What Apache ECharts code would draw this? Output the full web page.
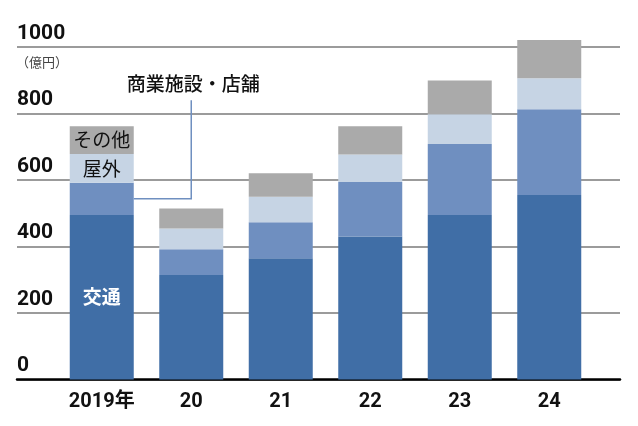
<!DOCTYPE html>
<html><head><meta charset="utf-8">
<script src="https://cdn.jsdelivr.net/npm/echarts@6/dist/echarts.min.js"></script>
<style>html,body{margin:0;padding:0;background:#fff}#c{width:638px;height:426px}</style>
</head><body><div id="c"></div>
<script>
const categories = ['2019年', '20', '21', '22', '23', '24'];
const transport = [495, 314, 365, 430, 495, 555];
const commercial = [97, 78, 108, 164, 213, 258];
const outdoor = [86, 62, 77, 83, 90, 93];
const other = [84, 60, 70, 85, 101, 115];
const seriesNames = ['交通', '商業施設・店舗', '屋外', 'その他'];
const unitLabel = '（億円）';
const yMin = 0, yMax = 1000, yStep = 200;

const NUM_FONT = "Roboto,'Noto Sans CJK JP',sans-serif";
const JP_FONT = "'Noto Sans CJK JP','Noto Sans',sans-serif";
const colors = ['#406ea6', '#6f8fc0', '#c6d4e4', '#aaaaaa'];

const gridTop = 47, gridBottom = 46.5;
const chart = echarts.init(document.getElementById('c'), null, {renderer: 'canvas'});

function firstLabel(arr, text, color, weight) {
  return arr.map((v, i) => i === 0 ? {
    value: v,
    label: {show: true, position: 'inside', formatter: text, color: color,
            fontFamily: JP_FONT, fontSize: 19, fontWeight: weight}
  } : v);
}

const seriesData = [
  firstLabel(transport, seriesNames[0], '#ffffff', 'bold'),
  commercial,
  firstLabel(outdoor, seriesNames[2], '#111111', 'normal'),
  firstLabel(other, seriesNames[3], '#111111', 'normal')
];

const option = {
  animation: false,
  grid: [
    {left: 17, right: 18, top: gridTop, bottom: gridBottom},
    {left: 57, right: 44, top: gridTop, bottom: gridBottom}
  ],
  xAxis: [
    {gridIndex: 0, type: 'value', min: 0, max: 1, show: true,
     axisLine: {show: true, onZero: false, lineStyle: {color: '#000', width: 2.5}},
     axisTick: {show: false}, axisLabel: {show: false}, splitLine: {show: false}},
    {gridIndex: 1, type: 'category', data: categories,
     axisLine: {show: false}, axisTick: {show: false},
     axisLabel: {interval: 0, color: '#111', fontFamily: NUM_FONT, fontSize: 20, fontWeight: 'bold', margin: 12}}
  ],
  yAxis: [
    {gridIndex: 0, type: 'value', min: yMin, max: yMax, interval: yStep,
     axisLine: {show: false}, axisTick: {show: false},
     axisLabel: {inside: true, align: 'left', verticalAlign: 'bottom', margin: 0, padding: [0, 0, 3, 0],
                 formatter: v => String(v),
                 color: '#111', fontFamily: NUM_FONT, fontSize: 21, fontWeight: 'bold'},
     splitLine: {show: true, lineStyle: {color: '#7a7a7a', width: 1.5}}},
    {gridIndex: 1, type: 'value', min: yMin, max: yMax, interval: yStep, show: false,
     splitLine: {show: false}}
  ],
  series: seriesData.map((d, i) => ({
    name: seriesNames[i], type: 'bar', stack: 'total',
    xAxisIndex: 1, yAxisIndex: 1, barWidth: 64, clip: false,
    itemStyle: {color: colors[i]}, data: d, z: 3
  }))
};
chart.setOption(option);

// annotation: leader line for 商業施設・店舗 anchored to data
const pStart = chart.convertToPixel({gridIndex: 1}, [0, transport[0] + commercial[0] / 2]);
const pCorner = chart.convertToPixel({gridIndex: 1}, [1, 840]);
const pText = chart.convertToPixel({gridIndex: 1}, [1, 890]);
chart.setOption({
  graphic: [
    {type: 'polyline', z: 10,
     shape: {points: [[pStart[0] + 32, pStart[1]], [pCorner[0], pStart[1]], [pCorner[0], pCorner[1]]]},
     style: {stroke: '#6f8fc0', lineWidth: 1.5, fill: null}},
    {type: 'text', z: 10, x: pText[0] + 2, y: pText[1],
     style: {text: seriesNames[1], font: '500 19px ' + JP_FONT, fill: '#111',
             textAlign: 'center', textVerticalAlign: 'middle'}},
    {type: 'text', z: 10, x: 16, y: 62,
     style: {text: unitLabel, font: '13px ' + JP_FONT, fill: '#444',
             textAlign: 'left', textVerticalAlign: 'middle'}}
  ]
});
</script></body></html>
